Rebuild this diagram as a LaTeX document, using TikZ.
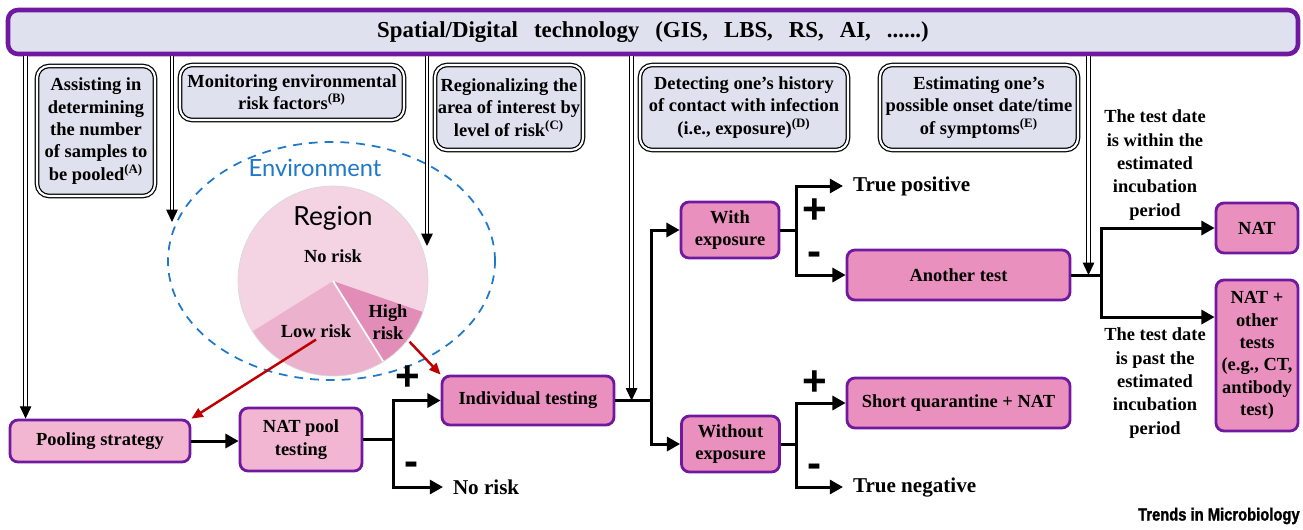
\documentclass[tikz,border=0pt]{standalone}
\usepackage{fontspec}
\setmainfont{Liberation Serif}
\newfontfamily\mapfont{Lato}
\newfontfamily\signfont{Liberation Sans}
\newfontfamily\logofont[FakeStretch=0.84, BoldFeatures={FakeBold=1.5}]{Liberation Sans}
\usepackage{tikz}
\usetikzlibrary{positioning}
\usetikzlibrary{shapes.geometric}
\usetikzlibrary{arrows.meta}
\usetikzlibrary{calc}
\usepackage{xcolor}

\definecolor{boxpurple}{HTML}{7019A0}
\definecolor{barblue}{HTML}{DFE2EE}
\definecolor{pinklight}{HTML}{F2B6D2}
\definecolor{pinkmid}{HTML}{EA90BE}
\definecolor{envblue}{HTML}{1F78C8}
\definecolor{risknone}{HTML}{F4D4E3}
\definecolor{risklow}{HTML}{EBB1CD}
\definecolor{riskhigh}{HTML}{E28DB8}
\definecolor{riskred}{HTML}{C00000}

\begin{document}
\begin{tikzpicture}[
		% Style definitions
		techbar/.style={draw=boxpurple, line width=2.6pt, rounded corners=0.2cm, fill=barblue, minimum width=25.8cm, minimum height=0.88cm, font=\fontsize{13}{15}\selectfont\bfseries},
		role/.style={draw=black, double=white, double distance=1.2pt, line width=0.7pt, rounded corners=0.24cm, fill=barblue, font=\fontsize{10.5}{12.7}\selectfont\bfseries, align=center, inner sep=1pt},
		stepbox/.style={draw=boxpurple, line width=1.6pt, rounded corners=0.16cm, fill=pinkmid, font=\fontsize{10.5}{12.7}\selectfont\bfseries, align=center, inner sep=1pt},
		lightbox/.style={stepbox, fill=pinklight},
		outcome/.style={font=\fontsize{12}{14}\selectfont\bfseries, anchor=west, inner xsep=5.5pt, inner ysep=1pt},
		note/.style={font=\fontsize{10.5}{13.3}\selectfont\bfseries, align=center},
		sign/.style={font=\signfont\fontsize{24}{24}\selectfont\bfseries, inner sep=0pt, text height=14pt, text depth=0pt},
		slicelabel/.style={font=\fontsize{10.5}{12.7}\selectfont\bfseries, align=center, inner sep=1pt},
		flow/.style={line width=1.7pt, -{Triangle[length=7.5pt, width=8pt]}},
		branch/.style={line width=1.7pt},
		dbl/.style={draw=black, double=white, double distance=1.6pt, line width=0.6pt, -{Triangle[length=7pt, width=6.5pt]}},
		riskarrow/.style={draw=riskred, line width=1.4pt, -{Triangle[length=6.5pt, width=5.5pt]}},
		]
		\useasboundingbox (0,0) rectangle (26.06,-10.58);

		% === ROW 0: Technology bar ===
		\node[techbar] (tech) at (13.06,-0.64) {Spatial/Digital\hspace{0.45em} technology\hspace{0.45em} (GIS,\hspace{0.45em} LBS,\hspace{0.45em} RS,\hspace{0.45em} AI,\hspace{0.45em} ......)};

		% === ROW 1: What the technology supports ===
		\node[role, minimum width=2.36cm, minimum height=2.6cm] (roleA) at (1.92,-2.62) {Assisting in\\determining\\the number\\of samples to\\be pooled\textsuperscript{(A)}};
		\node[role, minimum width=4.48cm, minimum height=1.1cm] (roleB) at (5.84,-1.85) {Monitoring environmental\\risk factors\textsuperscript{(B)}};
		\node[role, minimum width=2.96cm, minimum height=1.7cm] (roleC) at (10.18,-2.15) {Regionalizing the\\area of interest by\\level of risk\textsuperscript{(C)}};
		\node[role, minimum width=4.16cm, minimum height=1.7cm] (roleD) at (14.88,-2.15) {Detecting one's history\\of contact with infection\\(i.e., exposure)\textsuperscript{(D)}};
		\node[role, minimum width=3.96cm, minimum height=1.7cm] (roleE) at (19.58,-2.15) {Estimating one's\\possible onset date/time\\of symptoms\textsuperscript{(E)}};

		% === Environment and risk regions ===
		\node[draw=envblue, line width=1pt, dash pattern=on 5pt off 4pt, ellipse, minimum width=6.54cm, minimum height=4.76cm] (env) at (6.63,-5.22) {};
		\node[text=envblue, font=\mapfont\fontsize{13.5}{16}\selectfont] (envlbl) at (6.30,-3.36) {Environment};
		\coordinate (pc) at (6.66,-5.62);
		\fill[risknone] (pc) -- +(341:1.9) arc[start angle=341, end angle=572, radius=1.9] -- cycle;
		\fill[risklow] (pc) -- +(212:1.9) arc[start angle=212, end angle=302, radius=1.9] -- cycle;
		\fill[riskhigh] (pc) -- +(302:1.9) arc[start angle=302, end angle=341, radius=1.9] -- cycle;
		\draw[white, line width=1pt] (pc) -- +(302:1.9);
		\draw[white!85!black, line width=0.4pt] (pc) circle[radius=1.9];
		\node[font=\mapfont\fontsize{15}{17}\selectfont] (regionlbl) at (6.66,-4.36) {Region};
		\node[slicelabel] (nolbl) at (6.66,-5.12) {No risk};
		\node[slicelabel] (lowlbl) at (6.32,-6.62) {Low risk};
		\node[slicelabel] (highlbl) at (7.76,-6.44) {High\\risk};

		% === Pooling path ===
		\node[lightbox, minimum width=3.6cm, minimum height=0.84cm] (pool) at (2.0,-8.82) {Pooling strategy};
		\node[lightbox, minimum width=2.44cm, minimum height=1.26cm] (natpool) at (6.02,-8.79) {NAT pool\\testing};
		\node[stepbox, minimum width=3.44cm, minimum height=0.98cm] (indiv) at (10.56,-8.01) {Individual testing};
		\node[outcome] (norisk) at (8.86,-9.74) {No risk};

		% === Exposure path ===
		\node[stepbox, minimum width=1.96cm, minimum height=1.12cm] (withexp) at (14.60,-4.60) {With\\exposure};
		\node[stepbox, minimum width=1.96cm, minimum height=1.12cm] (woexp) at (14.61,-8.88) {Without\\exposure};
		\node[stepbox, minimum width=4.46cm, minimum height=1.0cm] (another) at (19.17,-5.50) {Another test};
		\node[stepbox, minimum width=4.46cm, minimum height=1.0cm] (shortq) at (19.17,-8.06) {Short quarantine + NAT};
		\node[outcome] (truepos) at (16.86,-3.72) {True positive};
		\node[outcome] (trueneg) at (16.86,-9.74) {True negative};

		% === Onset date path ===
		\node[stepbox, minimum width=1.64cm, minimum height=1.0cm] (nat) at (25.14,-4.56) {NAT};
		\node[stepbox, minimum width=1.64cm, minimum height=3.02cm] (natplus) at (25.14,-7.11) {NAT +\\other\\tests\\(e.g., CT,\\antibody\\test)};
		\node[note] (within) at (23.10,-3.30) {The test date\\is within the\\estimated\\incubation\\period};
		\node[note] (past) at (23.10,-7.66) {The test date\\is past the\\estimated\\incubation\\period};

		% === Connectors ===
		\draw[flow] (pool.east) -- (pool.east -| natpool.west);
		\draw[branch] (natpool.east) -- ++(0.6,0) coordinate (j1);
		\draw[flow] (j1) |- (indiv.west);
		\draw[flow] (j1) |- (norisk.west);
		\node[sign] (plus1) at (8.16,-7.56) {+};
		\node[sign] (minus1) at (8.24,-9.26) {-};

		\draw[branch] (indiv.east) -- ++(0.72,0) coordinate (j2);
		\draw[flow] (j2) |- (withexp.west);
		\draw[flow] (j2) |- (woexp.west);

		\draw[branch] (withexp.east) -- ++(0.32,0) coordinate (j3);
		\draw[flow] (j3) |- (truepos.west);
		\draw[flow] (j3) |- (another.west);
		\node[sign] (plus2) at (16.3,-4.22) {+};
		\node[sign] (minus2) at (16.3,-5.06) {-};

		\draw[branch] (woexp.east) -- ++(0.32,0) coordinate (j4);
		\draw[flow] (j4) |- (shortq.west);
		\draw[flow] (j4) |- (trueneg.west);
		\node[sign] (plus3) at (16.3,-7.66) {+};
		\node[sign] (minus3) at (16.3,-9.30) {-};

		\draw[branch] (another.east) -- ++(0.6,0) coordinate (j5);
		\draw[flow] (j5) |- (nat.west);
		\draw[flow] (j5) |- ($(natplus.north west)!0.25!(natplus.south west)$);

		% Red links from the risk regions
		\draw[riskarrow] (lowlbl.south) -- (pool.north east);
		\draw[riskarrow] (highlbl.south east) -- (indiv.north west);

		% === Double arrows from the technology bar ===
		\coordinate (hitA) at ([xshift=0.34cm]pool.north west);
		\coordinate (hitB) at (3.44,-4.44);
		\coordinate (hitC) at (8.54,-4.92);
		\coordinate (hitD) at ($(indiv.east)!0.45!(j2)$);
		\coordinate (hitE) at ($(another.east)!0.57!(j5)$);
		\foreach \h in {hitA,hitB,hitC,hitD,hitE}
			\draw[dbl] (tech.south -| \h) -- (\h);

		% Journal mark
		\node[font=\logofont\fontsize{10}{12}\selectfont\bfseries, anchor=east, inner sep=0pt] (logo) at (26.0,-10.32) {Trends in Microbiology};

	\end{tikzpicture}
\end{document}
